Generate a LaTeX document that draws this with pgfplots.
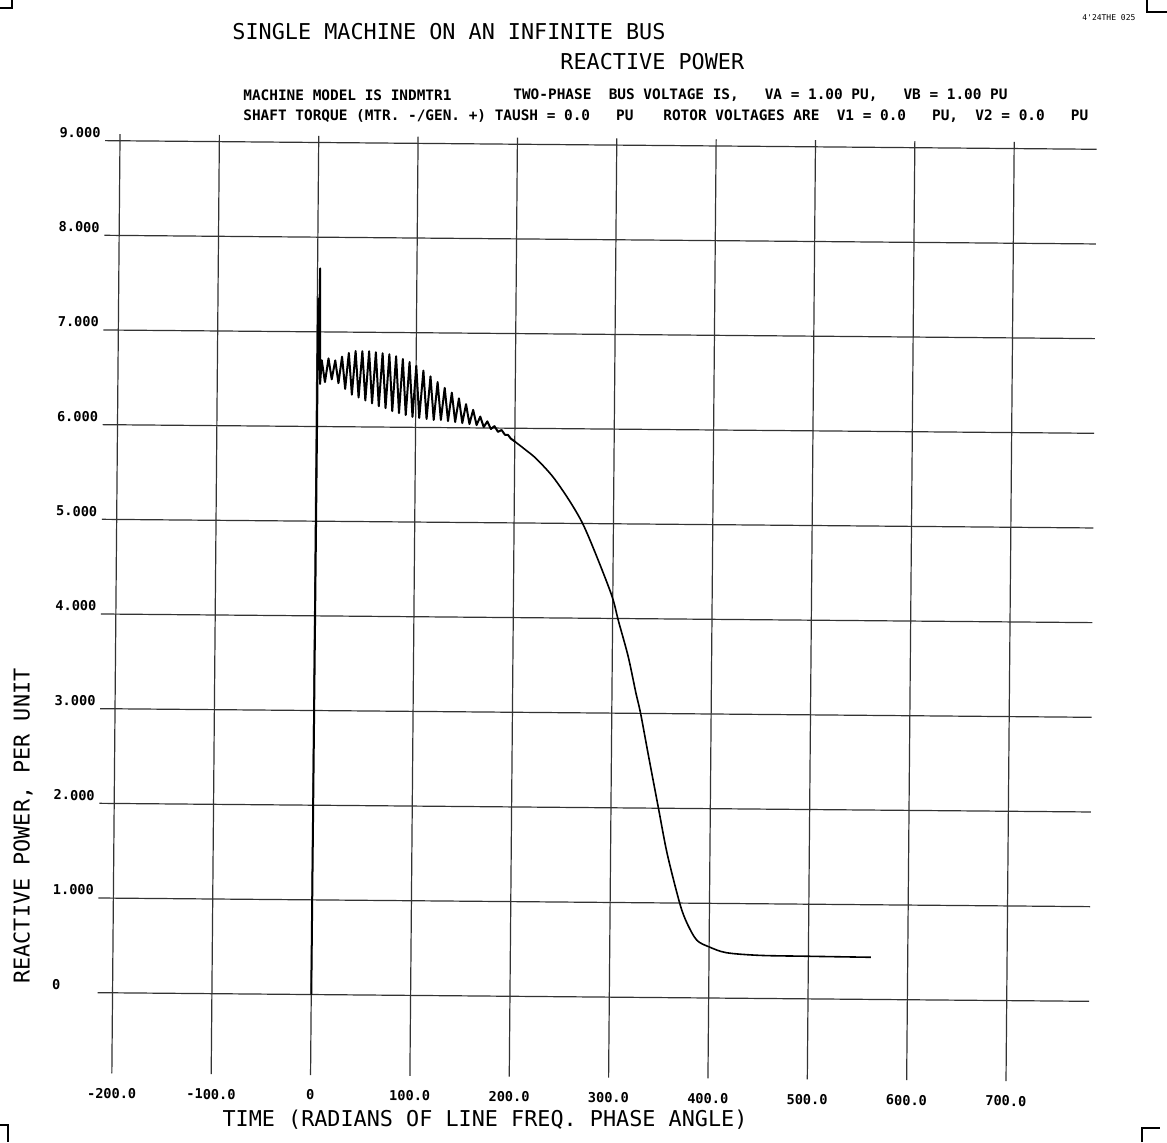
\documentclass[border=0pt]{standalone}
\usepackage{fontspec}
\setmonofont{DejaVu Sans Mono}
\usepackage{pgfplots}
\pgfplotsset{compat=1.18}
\newcommand{\ttl}{\ttfamily\fontsize{10.9}{12}\selectfont}
\newcommand{\hdr}{\ttfamily\bfseries\fontsize{7.2}{8}\selectfont}
\begin{document}
\begin{tikzpicture}
\useasboundingbox (0,0) rectangle (583.5pt,571pt);
\begin{scope}[rotate around={-0.5:(298.5pt,267pt)}]
\begin{axis}[
  at={(50.5pt,32.25pt)}, anchor=south west,
  scale only axis, width=495.8pt, height=469.6pt,
  xmin=-215, xmax=783, ymin=-0.85, ymax=9.07,
  axis line style={draw=none},
  major tick length=0pt,
  grid=major,
  grid style={black!80, line width=0.6pt},
  xtick={-200,-100,0,100,200,300,400,500,600,700},
  xticklabels={-200.0,-100.0,0,100.0,200.0,300.0,400.0,500.0,600.0,700.0},
  ytick={0,1,2,3,4,5,6,7,8,9},
  yticklabels={0,1.000,2.000,3.000,4.000,5.000,6.000,7.000,8.000,9.000},
  ticklabel style={font=\ttfamily\bfseries\fontsize{6.8}{7}\selectfont, inner sep=0pt},
  xticklabel style={anchor=center, yshift=-10pt},
  yticklabel style={anchor=west, xshift=-23pt, yshift=4pt},
  clip=false,
]
\addplot[black, line width=1pt, line join=round] coordinates {
(0,0) (1,7.35) (1.8,6.6) (2.6,7.67) (3.5,6.45) (5,6.70) (8.4,6.47) (11.8,6.72)
(15.2,6.50) (18.6,6.70) (22,6.46) (25.4,6.74) (28.8,6.40) (32.2,6.78) (35.6,6.34)
(39,6.80) (42.4,6.31) (45.8,6.80) (49.2,6.28) (52.6,6.80) (56,6.25) (59.4,6.79)
(62.8,6.22) (66.2,6.78) (69.6,6.20) (73,6.77) (76.4,6.17) (79.8,6.75) (83.2,6.15)
(86.6,6.72) (90,6.13) (93.4,6.69) (96.8,6.11) (100.2,6.65) (103.6,6.10) (107.4,6.60)
(111,6.09) (114.6,6.54) (118.2,6.08) (121.8,6.48) (125.4,6.08) (129,6.42) (132.6,6.07)
(136.2,6.37) (139.8,6.06) (143.4,6.31) (147,6.05) (150.6,6.25) (154.2,6.04) (157.8,6.19)
(161.4,6.03) (165,6.12) (168.6,6.01) (172.2,6.07) (175.8,5.99) (179.4,6.02) (183,5.96)
(186.6,5.98) (190,5.93) (193,5.93) (196,5.89) (200,5.86)
};
\addplot[black, line width=0.8pt, smooth, tension=0.5] coordinates {
(200,5.86) (210,5.78) (221.8,5.68) (238.7,5.49) (255.5,5.24) (269,5.0) (282.4,4.68) (299,4.24)
(306,3.97) (316,3.60) (324,3.22) (329,3.0) (337,2.57) (347.8,2.0) (357,1.52) (370,1.0)
(377.5,0.79) (387.5,0.61) (400,0.54) (417.5,0.48) (451,0.455) (500,0.45) (563,0.445)
};
\end{axis}
\end{scope}
% titles and labels
\node[anchor=west, inner sep=0pt] at (116pt,555pt) {\ttl SINGLE MACHINE ON AN INFINITE BUS};
\node[anchor=west, inner sep=0pt] at (280pt,540pt) {\ttl REACTIVE POWER};
\node[anchor=west, inner sep=0pt] at (121.5pt,523.5pt) {\hdr MACHINE MODEL IS INDMTR1};
\node[anchor=west, inner sep=0pt] at (256.5pt,523.5pt) {\hdr TWO-PHASE~~BUS VOLTAGE IS,~~~VA = 1.00 PU,~~~VB = 1.00 PU};
\node[anchor=west, inner sep=0pt] at (121.5pt,513pt) {\hdr SHAFT TORQUE (MTR. -/GEN. +) TAUSH = 0.0~~~PU};
\node[anchor=west, inner sep=0pt] at (331.5pt,513pt) {\hdr ROTOR VOLTAGES ARE~~V1 = 0.0~~~PU,~~V2 = 0.0~~~PU};
\node[inner sep=0pt] at (242.5pt,11pt) {\ttl TIME (RADIANS OF LINE FREQ. PHASE ANGLE)};
\node[inner sep=0pt, rotate=90] at (11.5pt,158pt) {\ttl REACTIVE POWER, PER UNIT};
\node[anchor=west, inner sep=0pt] at (541pt,562pt) {\ttfamily\fontsize{4}{5}\selectfont 4'24THE 025};
% corner marks
\draw[line width=0.6pt] (0pt,567pt) -- (6pt,567pt) -- (6pt,571pt);
\draw[line width=0.6pt] (573.5pt,571pt) -- (573.5pt,565pt) -- (583.5pt,565pt);
\draw[line width=0.6pt] (0pt,8.5pt) -- (4pt,8.5pt) -- (4pt,0pt);
\draw[line width=0.6pt] (571pt,0pt) -- (571pt,7pt) -- (580pt,7pt);
\end{tikzpicture}
\end{document}
